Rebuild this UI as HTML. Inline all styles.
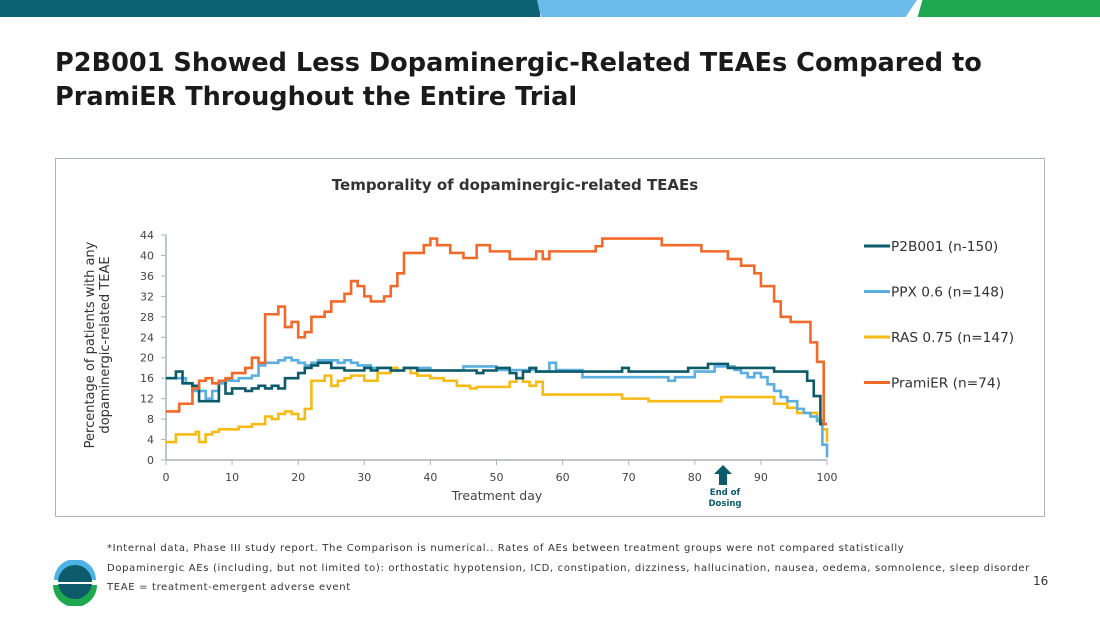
<!DOCTYPE html>
<html><head><meta charset="utf-8"><style>
body{margin:0;width:1100px;height:619px;background:#fff;position:relative;overflow:hidden;font-family:"DejaVu Sans","Liberation Sans",sans-serif;}
.abs{position:absolute}
</style></head><body>
<div class="abs" style="left:0;top:0;width:540px;height:17px;background:#0c6272"></div>
<div class="abs" style="left:537px;top:0;width:380px;height:17px;background:#6cbbe8;clip-path:polygon(0 0,100% 0,97% 100%,1% 100%)"></div>
<div class="abs" style="left:860px;top:0;width:240px;height:17px;background:#1ea84f;clip-path:polygon(26% 0,100% 0,100% 100%,24% 100%)"></div>
<div class="abs" style="left:55px;top:46px;font-size:25.6px;font-weight:bold;color:#1a1a1a;line-height:34px;">P2B001 Showed Less Dopaminergic-Related TEAEs Compared to<br>PramiER Throughout the Entire Trial</div>
<div class="abs" style="left:55px;top:158px;width:988px;height:357px;border:1.5px solid #a9b4bc"></div>
<svg class="abs" style="left:0;top:0" width="1100" height="619">
<text x="515" y="190" text-anchor="middle" font-size="15" font-weight="bold" fill="#333">Temporality of dopaminergic-related TEAEs</text>
<g id="axes"></g><g id="series"></g><g id="legend"></g>
<text transform="translate(94,345) rotate(-90)" text-anchor="middle" font-size="13" fill="#333"><tspan x="0" y="0">Percentage of patients with any</tspan><tspan x="0" y="15">dopaminergic-related TEAE</tspan></text>
<text x="497" y="500" text-anchor="middle" font-size="12.5" fill="#444">Treatment day</text>
<path d="M723 465 L732 474 L727 474 L727 485 L719 485 L719 474 L714 474 Z" fill="#0c5a6a"/>
<text x="725" y="495" text-anchor="middle" font-size="8.5" font-weight="bold" fill="#0c5a6a"><tspan x="725" y="495">End of</tspan><tspan x="725" y="506">Dosing</tspan></text>
</svg>
<div class="abs" style="left:107px;top:539px;font-size:10px;letter-spacing:0.67px;color:#333;line-height:19.5px;white-space:nowrap">*Internal data, Phase III study report. The Comparison is numerical.. Rates of AEs between treatment groups were not compared statistically<br>Dopaminergic AEs (including, but not limited to): orthostatic hypotension, ICD, constipation, dizziness, hallucination, nausea, oedema, somnolence, sleep disorder<br>TEAE = treatment-emergent adverse event</div>
<svg class="abs" style="left:52px;top:560px" width="46" height="46">
<path d="M2 20 A21 21 0 0 1 44 20 Z" fill="#4db3e6"/><path d="M1 25 L45 25 A22 22 0 0 1 1 25 Z" fill="#1ea84f"/><circle cx="23" cy="22" r="17" fill="#0c5a6a"/><rect x="4" y="22" width="38" height="2" fill="#fff"/>
</svg>
<div class="abs" style="left:1033px;top:574px;font-size:12px;color:#333">16</div>
<script>
const xTicks=[0,10,20,30,40,50,60,70,80,90,100];
const yTicks=[0,4,8,12,16,20,24,28,32,36,40,44];
const seriesNames=["P2B001 (n-150)","PPX 0.6 (n=148)","RAS 0.75 (n=147)","PramiER (n=74)"];
const seriesColors=["#0c5a6a","#5aaee0","#f6bb16","#f26a2a"];
const p2bDays=[0,1.5,2.5,4,5,8,9,10,12,13,14,15,16,17,18,20,21,22,23,25,27,30,31,32,34,36,38,44,47,48,50,52,53,54,55,56,69,70,79,82,85,92,97,98,99,100];
const p2bVals=[16,17.3,15,14.5,11.5,15.5,13,14,13.5,14,14.5,14,14.5,14,16,17,18,18.5,19,18,17.5,18,17.5,18,17.5,18,17.5,17.5,17,17.5,18,17,16,17.3,18,17.3,18,17.3,18,18.8,18,17.3,15.5,12.5,7,7];
const ppxDays=[0,2,3,4,6,7,8,9,11,13,14,15,17,18,19,20,21,22,23,26,27,28,29,31,34,36,40,45,50,56,58,59,63,76,77,80,83,86,87,88,89,90,91,92,93,94,95.5,96.5,97.5,98.5,99.3,100];
const ppxVals=[16,16,15,13.5,12,13.5,15,15.5,16,16.5,18.5,19,19.5,20,19.5,19,18.5,19,19.5,19,19.5,19,18.5,18,17.5,18,17.5,18.3,17.6,17.3,19,17.6,16.2,15.5,16.2,17.3,18.3,17.6,17,16.2,17,16.2,14.8,13.5,12.3,11.5,10,9.2,8.5,7.6,3,0.5];
const rasDays=[0,1.5,3,4.5,5,6,7,8,11,13,15,16,17,18,19,20,21,22,24,25,26,27,28,30,32,34,35,36,37,38,40,42,44,46,47,52,53,54,55,56,57,69,73,84,92,94,95.5,98.5,99.3,100];
const rasVals=[3.5,5,5,5.5,3.5,5,5.5,6,6.5,7,8.5,8,9,9.5,9,8,10,15.5,16.5,14.5,15.5,16,16.5,15.5,17,18,17.5,18,17,16.5,16,15.5,14.5,14,14.3,15.3,16,15.3,14.5,15.3,12.8,12,11.5,12.3,11,10.2,9.2,8,6,3.5];
const pramiDays=[0,1,2,4,5,6,7,8,9,10,12,13,14,15,17,18,19,20,21,22,24,25,27,28,29,30,31,33,34,35,36,39,40,41,43,45,47,49,50,52,56,57,58,65,66,75,81,85,87,89,90,92,93,94.5,97.5,98.5,99.5,100];
const pramiVals=[9.5,9.5,11,14,15.5,16,15,15.5,16,17,18,20,19,28.5,30,26,27,24,25,28,29,31,32.5,35,34,32,31,32,34,36.5,40.5,42,43.3,42,40.5,39.5,42,40.8,40.8,39.3,40.8,39.3,40.8,41.8,43.3,42,40.8,39.3,38,36.5,34,31,28,27,23,19.2,7,7];
const NS="http://www.w3.org/2000/svg";
const X0=166,X1=827,Y0=460,Y1=235;
function xs(d){return X0+(d-0)/(100-0)*(X1-X0);}
function ys(v){return Y0-(v-0)/(44-0)*(Y0-Y1);}
function mk(tag,attrs,parent){const e=document.createElementNS(NS,tag);for(const k in attrs)e.setAttribute(k,attrs[k]);parent.appendChild(e);return e;}
const axes=document.getElementById('axes');
let ax=mk('line',{x1:X0,y1:Y0,x2:X1,y2:Y0,stroke:'#a9b4bc','stroke-width':1.5},axes);


let ay=mk('line',{x1:X0,y1:Y0,x2:X0,y2:Y1,stroke:'#a9b4bc','stroke-width':1.5},axes);


xTicks.forEach(t=>{
 mk('line',{x1:xs(t),y1:Y0,x2:xs(t),y2:Y0+5,stroke:'#a9b4bc'},axes);
 const tx=mk('text',{x:xs(t),y:Y0+21,'text-anchor':'middle','font-size':11,fill:'#444'},axes);tx.textContent=t;
 
 
});
yTicks.forEach(t=>{
 mk('line',{x1:X0-5,y1:ys(t),x2:X0,y2:ys(t),stroke:'#a9b4bc'},axes);
 const tx=mk('text',{x:X0-12,y:ys(t)+4,'text-anchor':'end','font-size':11,fill:'#444'},axes);tx.textContent=t;
 
 
});
const sg=document.getElementById('series');
const allDays=[p2bDays,ppxDays,rasDays,pramiDays],allVals=[p2bVals,ppxVals,rasVals,pramiVals];
const order=[2,1,0,3];
order.forEach(i=>{
 const D=allDays[i],V=allVals[i];let d='M'+xs(D[0])+' '+ys(V[0]);
 for(let k=1;k<D.length;k++){d+=' H'+xs(D[k])+' V'+ys(V[k]);}
 const p=mk('path',{d:d,fill:'none',stroke:seriesColors[i],'stroke-width':2.6},sg);
 
 
});
const lg=document.getElementById('legend');
seriesNames.forEach((n,i)=>{
 const y=246+i*45.5;
 const g=mk('g',{},lg);
 
 
 mk('line',{x1:864,y1:y,x2:890,y2:y,stroke:seriesColors[i],'stroke-width':3},g);
 const t=mk('text',{x:891,y:y+5,'font-size':13.7,fill:'#333'},g);t.textContent=n;
});
</script>
</body></html>
